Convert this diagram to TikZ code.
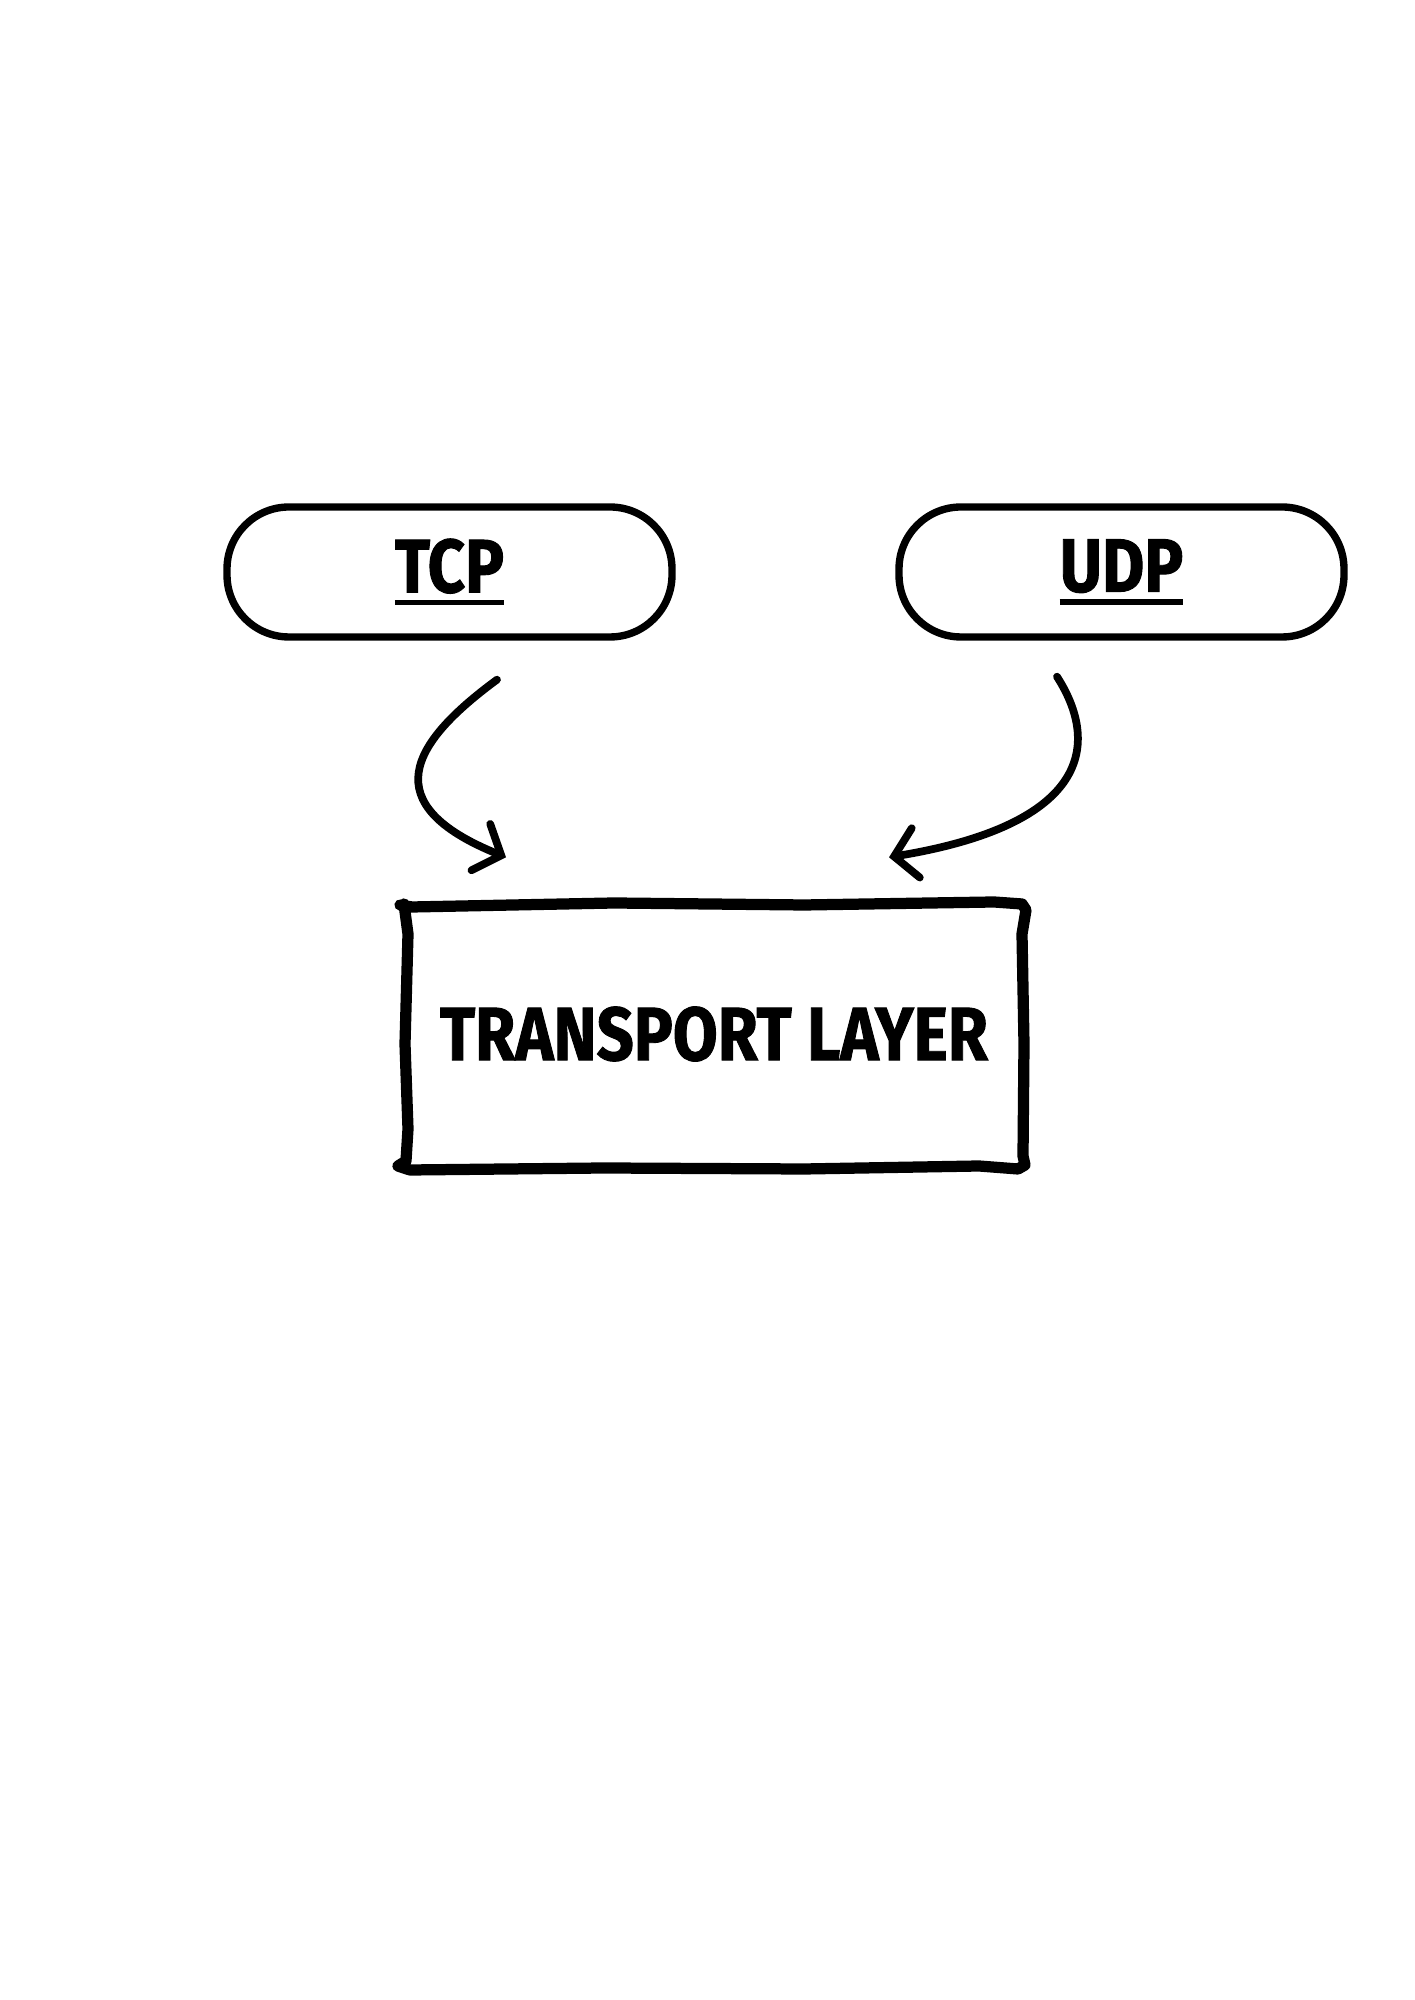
\documentclass[tikz,border=0pt]{standalone}
\usepackage{fontspec}
\setmainfont{Fira Sans}[FakeStretch=0.86, FakeBold=1.2]
\usetikzlibrary{arrows.meta, positioning, calc}
\newcommand\thickul[1]{\setbox0\hbox{#1}\hbox{\rule[-3.7pt]{\wd0}{1.5pt}\llap{\box0}}}

\begin{document}
\begin{tikzpicture}[
    proto/.style={draw, line width=2.1pt, rounded corners=0.62cm, minimum width=4.45cm, minimum height=1.3cm, font=\bfseries\fontsize{21.5}{24}\selectfont},
    layer/.style={minimum width=6.2cm, minimum height=2.62cm, inner sep=0pt, font=\bfseries\fontsize{21.5}{24}\selectfont},
    sketch/.style={line width=3.2pt, line cap=round, line join=round},
    arrow/.style={line width=2.2pt, line cap=round, -{Straight Barb[length=2.2mm, width=5mm, line cap=round]}},
]
\useasboundingbox[fill=white] (0,0) rectangle (14.14,20);

% Protocols
\node[proto] (tcp) at (4.495,14.28) {\thickul{TCP}};
\node[proto] (udp) at (11.215,14.28) {\thickul{UDP}};

% Transport layer (hand drawn frame)
\node[layer] (tl) at (7.14,9.66) {TRANSPORT LAYER};
\begin{scope}[shift={(tl.center)}]
\draw[sketch] (-3.14,1.29) -- (-3.02,1.27) -- (-1.0,1.31) -- (0.9,1.29) -- (2.8,1.32) -- (3.08,1.30)
  -- (3.12,1.24) -- (3.08,1.0) -- (3.10,-0.1) -- (3.09,-1.22) -- (3.11,-1.31)
  -- (3.04,-1.35) -- (2.65,-1.32) -- (0.9,-1.35) -- (-1.1,-1.34) -- (-3.04,-1.36) -- (-3.16,-1.32)
  -- (-3.08,-1.27) -- (-3.06,-0.95) -- (-3.09,-0.1) -- (-3.06,1.0) -- (-3.10,1.30);
\end{scope}

% Connectors
\coordinate (tcpout) at ([xshift=4.75mm, yshift=-3.9mm]tcp.south);
\coordinate (udpout) at ([xshift=-6.45mm, yshift=-3.6mm]udp.south);
\coordinate (tlinl) at ([xshift=-20.8mm, yshift=4.5mm]tl.north);
\coordinate (tlinr) at ([xshift=17.5mm, yshift=4.5mm]tl.north);
\draw[arrow] (tcpout) .. controls +(-0.87,-0.64) and +(-1.31,0.53) .. (tlinl);
\draw[arrow] (udpout) .. controls +(0.43,-0.67) and +(2.01,0.33) .. (tlinr);

\end{tikzpicture}
\end{document}
